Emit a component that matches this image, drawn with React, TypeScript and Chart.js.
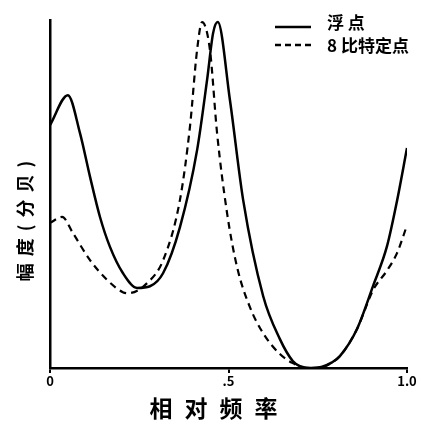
import React, { useEffect, useRef } from "react";
import { Chart, registerables } from "chart.js";

Chart.register(...registerables);

const seriesNames = ["浮 点", "8 比特定点"];

const floatFreq = [0, 0.05, 0.084, 0.112, 0.14, 0.168, 0.204, 0.244, 0.28, 0.317, 0.364, 0.412, 0.44, 0.457, 0.47, 0.504, 0.541, 0.597, 0.644, 0.68, 0.7, 0.73, 0.76, 0.79, 0.812, 0.86, 0.905, 0.944, 0.972, 1.0];
const floatAmp = [69.8, 78.4, 67.5, 55, 43.4, 34.8, 27.3, 23, 23.5, 27.3, 40.5, 62.6, 82.8, 96.3, 99.4, 77, 48.3, 20.7, 8.3, 2, 0.5, 0, 0.3, 1.6, 3.4, 11.2, 23.6, 35, 48, 63.2];

const fixedFreq = [0, 0.034, 0.064, 0.112, 0.16, 0.204, 0.22, 0.272, 0.317, 0.364, 0.392, 0.412, 0.426, 0.448, 0.468, 0.496, 0.524, 0.56, 0.597, 0.644, 0.68, 0.72, 0.76, 0.79, 0.812, 0.86, 0.905, 0.944, 0.972, 1.0];
const fixedAmp = [41.7, 43.4, 38.8, 31, 25.3, 21.8, 21.5, 24.4, 31, 48.3, 69.3, 91.4, 99.4, 91.4, 67.5, 44.5, 29, 17.5, 10, 4, 1.4, 0, 0.2, 1.6, 3.4, 11.2, 22.4, 28, 33, 41];

const xTickValues = [0, 0.5, 1.0];
const xTickLabels = ["0", ".5", "1.0"];

const xTitle = "相对频率";
const yTitle = "幅度(分贝)";

const FONT = "'Noto Sans CJK SC', 'Noto Sans', sans-serif";

const decorPlugin = {
  id: "decor",
  afterDraw(chart: any) {
    const ctx = chart.ctx;
    const area = chart.chartArea;
    ctx.save();
    // legend
    const x0 = area.right - 132;
    const x1 = x0 + 36;
    const rows = [area.top + 7, area.top + 25];
    chart.data.datasets.forEach((ds: any, i: number) => {
      const y = rows[i];
      ctx.beginPath();
      ctx.strokeStyle = "#000";
      ctx.lineWidth = 2.5;
      ctx.setLineDash(ds.borderDash ? [6, 4] : []);
      ctx.moveTo(x0, y);
      ctx.lineTo(x1, y);
      ctx.stroke();
      ctx.setLineDash([]);
      ctx.fillStyle = "#000";
      ctx.font = `bold 17px ${FONT}`;
      ctx.textBaseline = "middle";
      ctx.textAlign = "left";
      (ctx as any).letterSpacing = "0px";
      ctx.fillText(ds.label, x1 + 16, y - (i === 0 ? 4 : -1));
    });
    // x title
    ctx.fillStyle = "#000";
    ctx.font = `bold 23px ${FONT}`;
    ctx.textBaseline = "middle";
    ctx.textAlign = "left";
    (ctx as any).letterSpacing = "12px";
    const xw = ctx.measureText(xTitle).width - 12;
    const xc = (area.left + area.right) / 2 - 15;
    ctx.fillText(xTitle, xc - xw / 2, 408);
    // y title
    ctx.font = `bold 18px ${FONT}`;
    (ctx as any).letterSpacing = "7px";
    const yw = ctx.measureText(yTitle).width - 7;
    ctx.translate(25, 221);
    ctx.rotate(-Math.PI / 2);
    ctx.fillText(yTitle, -yw / 2, 0);
    ctx.restore();
  },
};

export default function App() {
  const ref = useRef<HTMLCanvasElement | null>(null);
  useEffect(() => {
    if (!ref.current) return;
    const chart = new Chart(ref.current, {
      type: "line",
      data: {
        datasets: [
          {
            label: seriesNames[0],
            data: floatFreq.map((f, i) => ({ x: f, y: floatAmp[i] })),
            borderColor: "#000",
            borderWidth: 2.5,
            pointRadius: 0,
            fill: false,
            cubicInterpolationMode: "monotone",
          },
          {
            label: seriesNames[1],
            data: fixedFreq.map((f, i) => ({ x: f, y: fixedAmp[i] })),
            borderColor: "#000",
            borderWidth: 2.2,
            borderDash: [7, 5],
            pointRadius: 0,
            fill: false,
            cubicInterpolationMode: "monotone",
          },
        ],
      },
      options: {
        animation: false,
        responsive: false,
        maintainAspectRatio: false,
        layout: { padding: { top: 20, right: 14, left: 0, bottom: 0 } },
        plugins: { legend: { display: false }, tooltip: { enabled: false } },
        scales: {
          x: {
            type: "linear",
            min: 0,
            max: 1,
            afterBuildTicks: (scale: any) => {
              scale.ticks = xTickValues.map((v) => ({ value: v }));
            },
            afterFit: (scale: any) => {
              scale.height = 59;
            },
            grid: { display: true, drawOnChartArea: false, color: "#000", tickLength: 5, lineWidth: 2 },
            border: { display: true, color: "#000", width: 2.5 },
            ticks: {
              color: "#000",
              padding: 0,
              font: { family: FONT, size: 13, weight: "bold" },
              callback: (v: any) => {
                const i = xTickValues.indexOf(Number(v));
                return i >= 0 ? xTickLabels[i] : "";
              },
            },
            title: { display: false, text: xTitle },
          },
          y: {
            type: "linear",
            min: 0,
            max: 100,
            afterFit: (scale: any) => {
              scale.width = 50;
            },
            grid: { display: false },
            border: { display: true, color: "#000", width: 2.5 },
            ticks: { display: false },
            title: { display: false, text: yTitle },
          },
        },
      },
      plugins: [decorPlugin],
    });
    return () => chart.destroy();
  }, []);
  return (
    <div style={{ position: "fixed", left: 0, top: 0, width: 421, height: 427, background: "#fff" }}>
      <canvas ref={ref} width={421} height={427} style={{ width: 421, height: 427 }} />
    </div>
  );
}
